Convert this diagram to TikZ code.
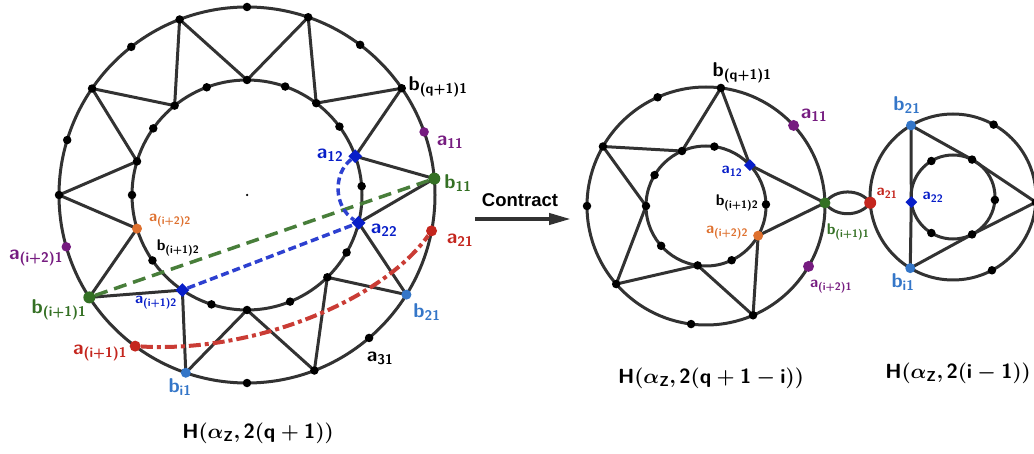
\documentclass[tikz,border=0pt]{standalone}
\usepackage{amsmath}
\usepackage{fontspec}
\newfontfamily\helv{Liberation Sans}
\usetikzlibrary{shapes.geometric,backgrounds,arrows.meta}

\definecolor{lineg}{RGB}{50,50,50}
\definecolor{dgreen}{RGB}{52,112,36}
\definecolor{dpurple}{RGB}{118,28,128}
\definecolor{dred}{RGB}{196,38,30}
\definecolor{dblue}{RGB}{8,30,200}
\definecolor{lblue}{RGB}{52,118,200}
\definecolor{dorange}{RGB}{222,112,46}

\tikzset{
  gline/.style={line width=3pt, draw=lineg},
  bdot/.style={circle, fill=black, inner sep=0pt, minimum size=8.5pt},
  cdot/.style={circle, fill=#1, inner sep=0pt, minimum size=11pt},
  bdia/.style={diamond, fill=dblue, inner sep=0pt, minimum size=14pt},
  lab/.style={text=#1, inner sep=0pt, font=\sffamily\bfseries\fontsize{20}{24}\selectfont},
  slab/.style={text=#1, inner sep=0pt, font=\sffamily\bfseries\fontsize{15.5}{18}\selectfont},
  ttl/.style={inner sep=0pt, font=\sffamily\bfseries\boldmath\fontsize{20.5}{24}\selectfont},
}

\begin{document}
\begin{tikzpicture}[x=1pt, y=1pt]
\useasboundingbox (0,0) rectangle (1034,453);

% big graph H(alpha_Z, 2(q+1))
\node[circle, fill=black, inner sep=0pt, minimum size=2.5pt] (ctr) at (247,258) {};
\begin{scope}[shift={(247,258)}]
  \foreach \n/\a in {o90/90, o108/111, o72/71, o126/128, o54/53, o144/145.5, o36/34.6,
      o162/163, o180/180, o306/-49.5, o288/-69, o270/270}
    \node[bdot] (\n) at (\a:188) {};
  \node[cdot=dpurple, minimum size=9.5pt] (o18) at (19.6:188) {};
  \node[cdot=dgreen, minimum size=12pt] (o0) at (5:188) {};
  \node[cdot=dpurple, minimum size=9.5pt] (o198) at (196:188) {};
  \node[cdot=dred] (o342) at (-11:188) {};
  \node[cdot=dgreen, minimum size=12pt] (o216) at (213:188) {};
  \node[cdot=lblue, minimum size=10pt] (o324) at (-32:188) {};
  \node[cdot=dred] (o234) at (233.5:188) {};
  \node[cdot=lblue, minimum size=10pt] (o252) at (251:188) {};

  \foreach \n/\a in {i90/90, i108/110.5, i72/70.6, i126/129, i54/53, i144/144.6, i36/36.5,
      i162/163, i180/180, i0/4.4, i216/214.7, i324/-30, i306/-45.7, i252/252, i288/-68, i270/270}
    \node[bdot] (\n) at (\a:115) {};
  \node[bdia] (i18) at (19.7:115) {};
  \node[bdia] (i342) at (-14:115) {};
  \node[bdia] (i234) at (235.8:115) {};
  \node[cdot=dorange, minimum size=10pt] (i198) at (197:115) {};
\end{scope}

\begin{scope}[on background layer]
  \draw[gline] (ctr) circle[radius=188];
  \draw[gline] (ctr) circle[radius=115];
  \foreach \p/\q in {i90/o108, i90/o72, i126/o108, i126/o144, i162/o144, i162/o180,
      i198/o180, i198/o216, i234/o216, i234/o252, i270/o252, i270/o288, i306/o288,
      i306/o324, i342/o324, i342/o0, i18/o0, i18/o36, i54/o36, i54/o72}
    \draw[gline] (\p.center) -- (\q.center);
\end{scope}

% contracted edges
\draw[dgreen!90!white, line width=3.5pt, dash pattern=on 13pt off 7pt] (o216) -- (o0);
\draw[dblue!85!white, line width=3.5pt, dash pattern=on 8pt off 4pt] (i234) -- (i342);
\draw[dblue!85!white, line width=3.5pt, dash pattern=on 7pt off 4pt] (i18) to[bend right=55] (i342);
\draw[dred!90!white, line width=4pt, dash pattern=on 12pt off 4pt on 4pt off 4pt]
  (o234) .. controls (250,100) and (380,150) .. (o342);

\node[lab=black] (lbq) at (438,366) {b\textsubscript{(q+1)1}};
\node[lab=dpurple] (la11) at (450,311) {a\textsubscript{11}};
\node[lab=dgreen] (lb11) at (458,270) {b\textsubscript{11}};
\node[lab=dblue] (la12) at (330,298) {a\textsubscript{12}};
\node[lab=dblue] (la22) at (384,223) {a\textsubscript{22}};
\node[lab=dred] (la21) at (460,213) {a\textsubscript{21}};
\node[lab=lblue] (lb21) at (427,141) {b\textsubscript{21}};
\node[lab=black] (la31) at (380,95) {a\textsubscript{31}};
\node[lab=lblue] (lbi1) at (180,66) {b\textsubscript{i1}};
\node[lab=dred] (lai11) at (100,100) {a\textsubscript{(i+1)1}};
\node[lab=dgreen] (lbi11) at (59,143) {b\textsubscript{(i+1)1}};
\node[slab=dblue] (lai12) at (156,150) {a\textsubscript{(i+1)2}};
\node[lab=dpurple] (lai21) at (36,195) {a\textsubscript{(i+2)1}};
\node[slab=dorange] (lai22) at (170,232) {a\textsubscript{(i+2)2}};
\node[slab=black] (lbi12) at (178,205) {b\textsubscript{(i+1)2}};
\node[ttl] (tleft) at (258,20) {H$(\alpha_{\textsf{Z}},$\,2$($q${}+{}$1$))$};

% contract arrow
\coordinate (arrS) at (475,234);
\coordinate (arrE) at (571,234);
\draw[lineg, line width=4pt, -{Triangle[length=22pt, width=11pt]}] (arrS) -- (arrE);
\node[inner sep=0pt, font=\helv\bfseries\fontsize{18.5}{22}\selectfont] (contr) at (520,253) {Contract};

% H(alpha_Z, 2(q+1-i))
\coordinate (mc) at (706,247);
\begin{scope}[shift={(706,247)}]
  \foreach \n/\a in {mb/82.8, md114/114, mv150/150, md180/180, mv221/221, mv293/-66.7, md263/262.8}
    \node[bdot] (\n) at (\a:119) {};
  \node[cdot=dpurple] (ma11) at (42.6:119) {};
  \node[cdot=dgreen] (mg) at (1.5:119) {};
  \node[cdot=dpurple] (mai) at (-30.5:119) {};
  \foreach \n/\a in {mi114/113.6, mi82/82, mi149/149, mi180/180, mbi/1.5, mi222/221.6, mi262/262, mi295/-64.7}
    \node[bdot] (\n) at (\a:60) {};
  \node[bdia, minimum size=12pt] (ma12) at (43:60) {};
  \node[cdot=dorange, minimum size=10pt] (mor) at (-29.6:60) {};
\end{scope}

% H(alpha_Z, 2(i-1))
\coordinate (rc) at (953,256);
\begin{scope}[shift={(953,256)}]
  \node[cdot=lblue, minimum size=10pt] (rb21) at (120.4:83) {};
  \node[bdot] (rd61) at (60.7:83) {};
  \node[cdot=dred, minimum size=12pt] (ra21) at (184:83) {};
  \node[bdot] (rv) at (-3.6:83) {};
  \node[cdot=lblue, minimum size=10pt] (rbi) at (239:83) {};
  \node[bdot] (rd298) at (-62:83) {};
  \node[bdia, minimum size=12pt] (ra22) at (187:42) {};
  \node[bdot] (ri120) at (121:42) {};
  \node[bdot] (ri66) at (63:42) {};
  \node[bdot] (ri0) at (-4:42) {};
  \node[bdot] (ri298) at (-63:42) {};
  \node[bdot] (ri235) at (239:42) {};
\end{scope}

\begin{scope}[on background layer]
  \draw[gline] (mc) circle[radius=119];
  \draw[gline] (mc) circle[radius=60];
  \foreach \p/\q in {mi114/mb, mi114/mv150, mi180/mv150, mi180/mv221, mi262/mv221,
      mi262/mv293, mor/mv293, mor/mg, ma12/mg, ma12/mb}
    \draw[gline] (\p.center) -- (\q.center);
  \draw[gline] (mg.center) to[out=55, in=125] (ra21.center);
  \draw[gline] (mg.center) to[out=-55, in=-125] (ra21.center);
  \draw[gline] (rc) circle[radius=83];
  \draw[gline] (rc) circle[radius=42];
  \foreach \p/\q in {rb21/ra22, ra22/rbi, rb21/ri66, ri66/rv, rbi/ri298, ri298/rv}
    \draw[gline] (\p.center) -- (\q.center);
\end{scope}

\node[lab=black] (mlbq) at (742,380) {b\textsubscript{(q+1)1}};
\node[lab=dpurple] (mla11) at (814,338) {a\textsubscript{11}};
\node[slab=dblue] (mla12) at (732,282) {a\textsubscript{12}};
\node[slab=black] (mlbi2) at (737,250) {b\textsubscript{(i+1)2}};
\node[slab=dorange] (mlai2) at (727,220) {a\textsubscript{(i+2)2}};
\node[slab=dpurple] (mlai1) at (831,166) {a\textsubscript{(i+2)1}};
\node[slab=dgreen] (mlbi1) at (848,221) {b\textsubscript{(i+1)1}};
\node[ttl] (tmid) at (711,75) {H$(\alpha_{\textsf{Z}},$\,2$($q${}+{}$1${}-{}$i$))$};

\node[lab=lblue] (rlb21) at (907,348) {b\textsubscript{21}};
\node[slab=dred] (rla21) at (887,260) {a\textsubscript{21}};
\node[slab=dblue] (rla22) at (933,256) {a\textsubscript{22}};
\node[lab=lblue] (rlbi) at (903,171) {b\textsubscript{i1}};
\node[ttl] (tright) at (958,80) {H$(\alpha_{\textsf{Z}},$\,2$($i${}-{}$1$))$};
\end{tikzpicture}
\end{document}
